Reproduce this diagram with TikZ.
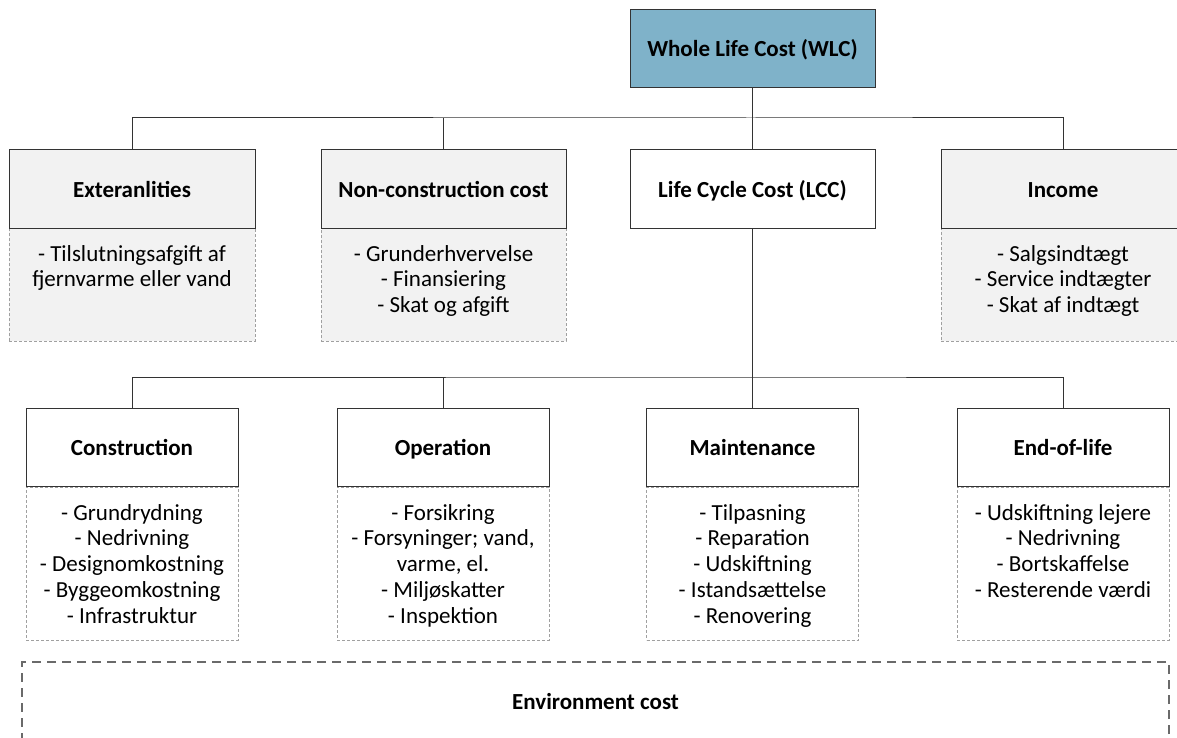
\documentclass[tikz,border=0pt]{standalone}
\usepackage{fontspec}
\setmainfont{Carlito}
\usepackage{tikz}
\usetikzlibrary{positioning}
\definecolor{wlcblue}{HTML}{7FB2C9}
\definecolor{boxgray}{HTML}{F2F2F2}
\definecolor{dashgray}{HTML}{A0A0A0}
\definecolor{envgray}{HTML}{6A6A6A}

\begin{document}
\begin{tikzpicture}[x=1pt,y=-1pt,
	every node/.style={font=\fontsize{23}{25.8}\selectfont},
	head/.style={draw=black!80,line width=1pt,fill=white,minimum height=78pt,inner sep=0pt,text height=18pt,text depth=2pt,font=\fontsize{23}{25.8}\selectfont\bfseries},
	headtop/.style={head,minimum width=245pt},
	headbot/.style={head,minimum width=212pt},
	detail/.style={draw=dashgray,line width=0.7pt,dash pattern=on 3pt off 2pt,anchor=north,inner sep=0pt},
	items/.style={align=center,inner sep=0pt,anchor=north},
	conn/.style={draw=black!80,line width=1pt}]
	\useasboundingbox (0,0) rectangle (1177,738);
	\clip (0,0) rectangle (1177,738);

	\node[headtop,fill=wlcblue] (wlc) at (752.5,49) {Whole Life Cost (WLC)};

	\node[detail,fill=boxgray,minimum width=246pt,minimum height=113pt] (extD) at (132,228) {};
	\node[detail,fill=boxgray,minimum width=245pt,minimum height=113pt] (nccD) at (443.5,228) {};
	\node[detail,fill=boxgray,minimum width=244pt,minimum height=113pt] (incD) at (1063,228) {};
	\node[headtop,fill=boxgray,minimum width=246pt] (ext) at (132,189) {Exteranlities};
	\node[headtop,fill=boxgray] (ncc) at (443.5,189) {Non-construction cost};
	\node[headtop] (lcc) at (752.5,189) {Life Cycle Cost (LCC)};
	\node[headtop,fill=boxgray,minimum width=244pt] (inc) at (1063,189) {Income};

	\node[items] (extT) [below=17pt of extD.north] {- Tilslutningsafgift af\\fjernvarme eller vand};
	\node[items] (nccT) [below=17pt of nccD.north] {- Grunderhvervelse\\- Finansiering\\- Skat og afgift};
	\node[items] (incT) [below=17pt of incD.north] {- Salgsindtægt\\- Service indtægter\\- Skat af indtægt};

	\node[detail,minimum width=212pt,minimum height=153pt] (conD) at (132,487) {};
	\node[detail,minimum width=212pt,minimum height=153pt] (oprD) at (443,487) {};
	\node[detail,minimum width=212pt,minimum height=153pt] (mntD) at (752.5,487) {};
	\node[detail,minimum width=212pt,minimum height=153pt] (eolD) at (1063,487) {};
	\node[headbot] (con) at (132,447.5) {Construction};
	\node[headbot] (opr) at (443,447.5) {Operation};
	\node[headbot] (mnt) at (752.5,447.5) {Maintenance};
	\node[headbot] (eol) at (1063,447.5) {End-of-life};

	\node[items] (conT) [below=17pt of conD.north] {- Grundrydning\\- Nedrivning\\- Designomkostning\\- Byggeomkostning\\- Infrastruktur};
	\node[items] (oprT) [below=17pt of oprD.north] {- Forsikring\\- Forsyninger; vand,\\varme, el.\\- Miljøskatter\\- Inspektion};
	\node[items] (mntT) [below=17pt of mntD.north] {- Tilpasning\\- Reparation\\- Udskiftning\\- Istandsættelse\\- Renovering};
	\node[items] (eolT) [below=17pt of eolD.north] {- Udskiftning lejere\\- Nedrivning\\- Bortskaffelse\\- Resterende værdi};

	\node[draw=envgray,line width=1.5pt,dash pattern=on 9pt off 6pt,minimum width=1147pt,minimum height=80pt,font=\fontsize{23}{25.8}\selectfont\bfseries] (env) at (595.5,702) {Environment cost};

	\coordinate (busA) at (752.5,118);
	\coordinate (busB) at (752.5,377);
	\path[conn]
	(wlc) -- (lcc)
	(ext.north) |- (busA) -| (inc.north)
	(ncc.north) -- (ncc.north|-busA)
	(lcc) -- (mnt)
	(con.north) |- (busB) -| (eol.north)
	(opr.north) -- (opr.north|-busB)
	;
\end{tikzpicture}
\end{document}
